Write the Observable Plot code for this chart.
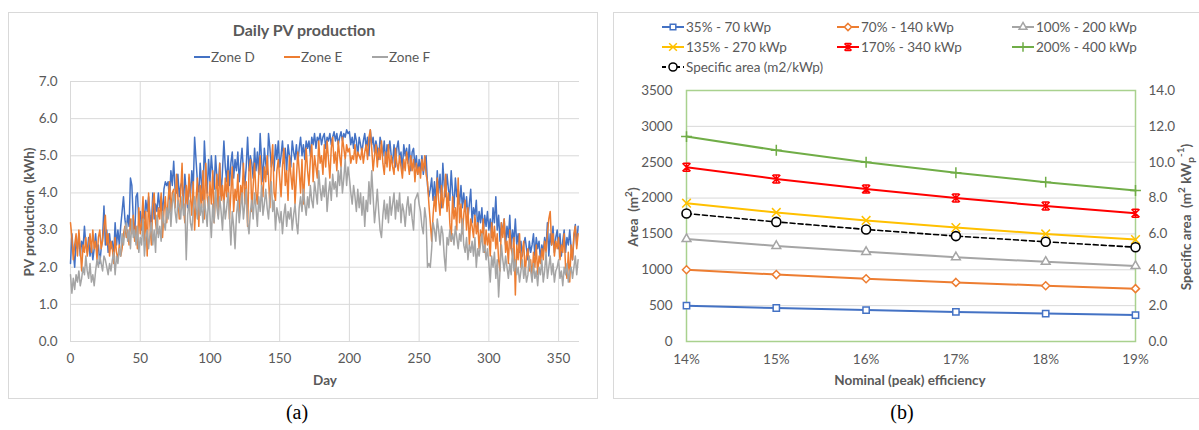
<!DOCTYPE html>
<html><head><meta charset="utf-8">
<script src="https://cdn.jsdelivr.net/npm/d3@7"></script>
<script src="https://cdn.jsdelivr.net/npm/@observablehq/plot@0.6"></script>
<style>
body{margin:0;background:#fff;font-family:Lato,"Open Sans",sans-serif;}
#wrap{position:relative;width:1199px;height:430px;overflow:hidden;background:#fff;}
.panel{position:absolute;border:1px solid #d9d9d9;box-sizing:border-box;pointer-events:none;}
.leg{position:absolute;white-space:nowrap;font-size:13.5px;color:#595959;display:flex;align-items:center;line-height:14px;}
.leg svg{display:block;overflow:visible;}
.cap{position:absolute;font-family:"Liberation Serif","Times New Roman",serif;font-size:20px;color:#000;transform:translate(-50%,-50%);}
</style></head><body><div id="wrap"></div>
<script>
// ---------- Panel (a): daily PV production (kWh), day 0..364 ----------
const zoneD = [
2.1,2.9,2.4,2.0,2.7,2.5,2.9,2.3,2.7,2.5,
3.1,2.6,2.4,2.8,2.3,2.6,2.2,2.5,2.9,2.4,
2.6,2.1,2.5,2.8,3.65,2.6,3.0,2.4,2.9,2.5,
2.7,2.3,3.2,2.6,3.0,2.6,3.1,3.5,3.9,3.3,
3.0,3.4,3.1,4.4,4.2,3.3,2.8,3.9,4.0,3.2,
3.5,3.0,3.6,3.3,3.8,3.5,3.9,3.4,3.1,4.0,
3.3,3.7,3.5,4.0,3.6,3.9,3.4,4.1,4.3,4.2,
4.3,3.8,4.6,4.2,4.85,4.1,4.0,4.5,3.9,4.2,
4.3,3.7,4.5,4.0,3.6,4.4,3.9,4.6,4.1,5.5,
4.9,4.3,3.9,4.8,4.2,3.8,5.4,4.6,4.0,4.9,
4.3,5.0,4.5,4.1,5.0,4.4,4.2,4.8,3.9,4.6,
5.4,4.7,4.3,5.0,4.2,4.8,5.1,4.4,4.9,4.6,
5.1,4.3,4.8,5.2,4.6,4.2,4.7,5.5,4.6,5.0,
4.8,4.4,5.2,4.6,5.1,4.5,5.6,4.9,4.3,5.2,
4.8,4.5,5.6,5.2,4.7,5.0,4.6,5.3,4.9,5.4,
4.7,5.0,5.4,4.8,5.2,4.6,5.3,5.0,4.7,5.4,
5.1,4.9,5.3,4.8,5.2,5.5,5.0,5.3,4.9,5.4,
5.2,5.4,5.0,5.5,5.3,5.6,5.2,5.5,5.4,5.6,
5.3,5.5,5.6,5.2,5.5,5.4,5.6,5.3,5.5,5.65,
5.4,5.6,5.3,5.5,5.65,5.4,5.6,5.5,5.7,5.6,
5.65,5.3,5.5,5.2,5.6,5.4,5.0,5.5,5.3,5.1,
5.4,5.6,5.2,5.5,5.0,5.7,5.3,5.5,5.1,5.4,
5.2,4.9,5.5,5.3,5.0,5.4,4.8,5.3,5.1,5.4,
5.0,4.8,5.3,4.7,5.2,5.4,4.9,5.1,4.6,5.3,
5.0,5.2,4.8,5.3,4.6,5.1,5.2,4.7,5.0,4.5,
4.9,4.6,5.0,4.5,4.8,5.0,4.2,3.9,4.1,4.4,
3.8,4.3,3.7,4.6,4.0,4.5,3.6,4.8,4.2,3.9,
4.5,4.1,3.8,4.6,4.0,3.6,4.4,3.9,4.1,3.7,
4.2,3.6,4.0,3.5,3.9,3.3,3.7,4.1,3.2,3.6,
3.4,3.8,3.0,3.5,3.2,3.6,2.9,3.4,3.1,3.5,
3.0,3.3,2.8,3.6,3.2,3.9,3.0,3.4,2.7,3.2,
2.9,3.3,2.6,3.1,2.8,3.4,2.5,3.0,2.7,3.3,
2.6,2.9,2.4,2.7,2.3,2.6,2.8,2.5,2.2,2.7,
2.4,2.6,2.9,2.3,2.8,2.5,2.7,2.2,2.6,2.4,
2.8,2.5,3.2,2.3,2.9,2.6,3.1,2.4,2.8,3.0,
2.5,2.9,2.3,2.7,3.0,2.4,2.8,2.6,3.0,2.5,
2.2,2.8,3.15,2.6,3.1];
const zoneE = [
3.2,2.8,2.2,2.6,2.9,2.3,3.0,2.5,1.9,2.6,
2.4,2.8,2.3,2.6,2.9,2.4,3.0,2.5,2.7,2.2,
2.8,3.0,2.5,2.7,3.1,3.4,2.6,2.9,2.3,2.7,
2.5,2.1,2.8,2.4,2.2,2.6,2.3,2.5,2.9,3.1,
2.8,3.0,2.6,3.3,2.9,3.4,2.7,3.1,2.5,3.6,
2.9,3.2,3.9,2.7,3.5,2.3,4.0,3.1,2.6,3.7,
4.0,3.2,2.9,3.6,3.3,4.0,2.8,3.5,3.9,3.2,
3.8,4.3,3.5,4.0,4.1,3.6,4.5,3.9,3.3,4.0,
4.8,3.6,3.2,4.2,3.7,4.5,3.9,3.4,4.3,3.0,
3.8,4.4,3.1,4.2,3.6,4.6,3.3,4.8,3.9,3.6,
4.3,3.7,4.6,3.2,4.0,4.5,3.4,4.8,3.8,4.2,
3.6,4.4,3.9,4.6,3.3,4.0,4.7,3.5,4.1,3.8,
4.5,3.4,4.2,3.9,4.8,3.7,4.3,3.1,4.6,4.9,
3.5,4.2,4.8,4.0,3.7,4.5,5.0,4.2,3.9,4.7,
4.3,5.0,4.4,3.6,4.8,5.3,4.0,3.8,4.6,4.9,
4.4,3.9,4.7,5.2,4.2,4.6,3.8,5.0,4.5,4.1,
4.8,3.7,4.4,5.1,4.6,4.0,4.9,3.7,4.5,5.2,
4.6,4.2,4.9,5.3,4.3,5.0,4.7,4.4,5.4,4.8,
5.0,4.5,5.3,4.7,5.4,4.9,4.4,5.2,5.5,4.8,
5.1,4.6,5.4,5.0,4.7,5.5,5.2,4.9,5.3,5.1,
5.2,4.8,5.0,4.9,5.3,4.8,5.1,5.0,4.9,5.2,
4.8,5.1,5.3,4.9,5.5,5.7,5.2,4.6,5.0,5.3,
4.7,5.2,4.9,5.4,4.8,4.5,5.1,4.7,5.3,4.6,
5.0,4.7,4.5,5.2,4.8,4.6,5.0,4.7,4.4,4.9,
4.6,5.1,4.8,4.5,5.0,4.6,4.9,4.3,4.8,4.5,
4.7,4.4,4.9,4.6,5.0,4.5,4.3,3.7,3.2,2.7,
3.4,3.9,3.5,4.4,3.8,3.4,4.2,3.6,3.9,4.5,
3.5,4.0,3.2,2.7,3.9,3.3,3.6,3.0,4.4,3.2,
3.7,2.9,3.4,3.8,3.0,3.6,2.6,3.3,3.1,2.8,
3.4,2.9,3.2,2.5,3.0,2.8,3.3,2.4,3.0,2.6,
2.9,2.3,3.2,2.7,3.1,2.5,2.9,2.2,1.9,3.2,
2.8,3.3,2.4,2.7,2.1,3.0,2.5,2.3,2.8,1.25,
2.6,2.2,2.9,2.0,2.4,2.7,1.8,2.3,2.5,1.9,
2.2,1.7,2.4,2.0,2.6,1.8,2.3,2.1,2.5,2.2,
2.7,2.4,2.9,3.3,3.5,2.6,2.9,2.3,2.7,2.5,
2.8,2.2,2.6,2.4,2.9,2.0,1.7,2.4,1.6,2.6,
2.2,2.9,3.1,2.5,2.9];
const zoneF = [
1.8,1.3,1.7,1.4,1.8,1.6,1.9,1.5,1.7,2.0,
1.8,2.3,1.9,1.7,2.1,1.6,1.8,1.5,1.9,2.2,
2.0,2.3,2.1,1.9,2.3,2.2,2.0,1.8,2.1,1.9,
2.2,2.4,1.8,2.3,2.1,2.5,2.3,2.9,2.6,3.0,
3.2,2.7,3.0,2.5,3.3,2.8,3.0,2.6,3.1,2.4,
2.8,2.6,3.3,2.3,2.8,3.0,2.5,2.9,3.2,2.6,
3.0,2.4,3.4,2.8,3.1,2.7,3.5,3.2,3.0,3.6,
3.3,3.8,3.1,3.7,4.0,3.5,3.2,3.8,3.6,3.3,
3.9,3.4,3.7,2.2,3.4,3.8,3.2,3.0,3.5,3.9,
3.6,3.3,4.0,3.4,3.7,3.2,3.8,3.5,3.1,3.9,
3.4,2.8,3.7,3.2,4.1,3.6,3.3,3.9,3.5,3.0,
3.8,3.3,3.6,4.0,3.4,2.6,3.5,3.1,2.5,3.4,
3.8,3.2,3.6,4.0,3.3,3.7,4.1,3.2,2.9,3.5,
3.8,3.3,4.0,3.6,3.1,3.9,3.5,4.2,3.4,3.7,
4.1,3.6,3.3,3.9,4.3,3.5,3.8,3.0,3.6,3.4,
3.2,3.5,2.9,3.4,3.7,3.1,3.5,3.3,3.6,3.0,
3.4,3.7,3.2,2.9,3.6,3.9,3.5,4.1,3.7,3.4,
3.9,3.6,4.2,3.8,3.6,4.3,4.0,3.7,4.6,4.1,
3.8,4.2,3.9,4.4,3.5,4.0,4.3,3.8,4.5,4.1,
4.3,3.9,4.6,4.2,4.7,4.0,4.4,4.9,4.2,4.7,
4.4,4.0,3.7,4.2,3.9,3.5,4.1,3.6,4.0,3.4,
3.9,3.1,3.8,3.5,4.3,3.7,4.6,3.9,3.2,3.6,
4.1,3.5,3.0,2.8,3.4,3.8,3.3,3.7,3.2,3.9,
3.4,3.7,4.0,3.3,3.8,3.5,4.0,3.2,3.7,3.5,
3.1,3.6,3.9,3.4,3.7,3.3,3.0,3.8,3.9,4.0,
3.7,3.5,3.1,2.9,3.6,3.3,2.0,2.1,2.0,2.5,
3.2,3.0,2.7,3.3,3.0,2.6,3.1,2.9,2.3,1.9,
2.8,2.6,3.0,2.7,2.9,2.6,3.1,2.8,2.5,2.9,
2.7,3.3,2.6,2.4,2.8,2.2,2.6,2.4,2.7,2.3,
2.8,2.0,2.5,2.3,2.6,2.9,2.4,2.6,2.2,2.5,
2.1,1.6,2.3,2.0,2.4,1.7,2.2,1.2,1.9,2.6,
2.2,1.9,2.3,2.0,1.7,2.1,1.8,2.5,1.9,2.2,
1.8,2.0,1.6,1.9,2.2,1.7,2.0,1.6,1.8,2.3,
1.9,1.6,2.1,1.7,1.9,1.5,2.0,1.8,2.2,1.6,
1.9,2.4,1.7,2.0,2.3,1.8,2.1,1.6,1.9,2.0,
2.2,1.7,1.9,1.5,2.0,1.8,2.1,1.6,1.9,2.0,
1.7,2.0,2.3,1.8,2.2];
const zoneNames = ["Zone D","Zone E","Zone F"];
const zoneColors = ["#4472C4","#ED7D31","#A5A5A5"];
const dayTicks = [0,50,100,150,200,250,300,350];
const pvTicks = [0,1,2,3,4,5,6,7];

// ---------- Panel (b): area vs nominal efficiency ----------
const efficiency = [14,15,16,17,18,19];
const area70 = [500,467,438,412,389,368];
const area140 = [1000,933,875,824,778,737];
const area200 = [1429,1333,1250,1176,1111,1053];
const area270 = [1929,1800,1688,1588,1500,1421];
const area340 = [2429,2267,2125,2000,1889,1789];
const area400 = [2857,2667,2500,2353,2222,2105];
const specificArea = [7.14,6.67,6.25,5.88,5.56,5.26];
const seriesNames = ["35% - 70 kWp","70% - 140 kWp","100% - 200 kWp","135% - 270 kWp","170% - 340 kWp","200% - 400 kWp","Specific area (m2/kWp)"];
const seriesColors = ["#4472C4","#ED7D31","#A5A5A5","#FFC000","#FF0000","#70AD47","#000000"];
const areaTicks = [0,500,1000,1500,2000,2500,3000,3500];
const specificTicks = [0,2,4,6,8,10,12,14];
</script>
<script>
const wrap = document.getElementById("wrap");
const TXT = "#595959";
const FONT = "Lato, 'Open Sans', sans-serif";

// custom Excel-like star marker (X + vertical bar + caps)
const starSym = {draw(ctx, size){ const r = Math.sqrt(size/Math.PI);
  ctx.moveTo(-r,-r); ctx.lineTo(r,r); ctx.moveTo(r,-r); ctx.lineTo(-r,r);
  ctx.moveTo(-r*0.8,-r); ctx.lineTo(r*0.8,-r); ctx.moveTo(-r*0.8,r); ctx.lineTo(r*0.8,r);
  ctx.moveTo(0,-r); ctx.lineTo(0,r);} };

// ===== Panel (a) =====
const zones = [zoneD, zoneE, zoneF];
const plotA = Plot.plot({
  width: 600, height: 400,
  marginLeft: 70, marginRight: 21, marginTop: 81, marginBottom: 59,
  style: {background: "transparent", fontFamily: FONT, fontSize: "13px", color: TXT, overflow: "visible"},
  x: {domain: [0, 365]},
  y: {domain: [0, 7]},
  marks: [
    Plot.gridX(dayTicks, {stroke: "#d9d9d9", strokeOpacity: 1, strokeWidth: 1}),
    Plot.gridY(pvTicks, {stroke: "#d9d9d9", strokeOpacity: 1, strokeWidth: 1}),
    Plot.axisX(dayTicks, {tickSize: 0, tickPadding: 12, label: null, color: TXT, fontSize: 13.5, tickFormat: d => String(d)}),
    Plot.axisY(pvTicks, {tickSize: 0, tickPadding: 13, label: null, color: TXT, fontSize: 13.5, tickFormat: d => d.toFixed(1)}),
    ...zones.map((z, k) => Plot.lineY(z, {x: (d, i) => i, y: d => d, stroke: zoneColors[k], strokeWidth: 1.5}))
  ]
});
plotA.style.position = "absolute"; plotA.style.left = "0px"; plotA.style.top = "0px";
wrap.appendChild(plotA);
{
  const s = d3.select(plotA);
  s.append("text").attr("x", 304).attr("y", 29).attr("text-anchor", "middle").attr("dominant-baseline", "central")
    .attr("font-size", 16).attr("font-weight", "bold").attr("fill", TXT).text("Daily PV production");
  s.append("text").attr("x", 325).attr("y", 380).attr("text-anchor", "middle").attr("dominant-baseline", "central")
    .attr("font-size", 13.5).attr("font-weight", "bold").attr("fill", TXT).text("Day");
  s.append("text").attr("transform", "translate(29,212) rotate(-90)").attr("text-anchor", "middle").attr("dominant-baseline", "central")
    .attr("font-size", 13.5).attr("font-weight", "bold").attr("fill", TXT).text("PV production\u00a0\u00a0(kWh)");
}
// legend (a)
const legA = [194, 284, 372];
zoneNames.forEach((n, k) => {
  const d = document.createElement("div"); d.className = "leg";
  d.style.left = legA[k] + "px"; d.style.top = (57 - 7) + "px";
  d.innerHTML = `<svg width="16" height="14"><line x1="0" x2="16" y1="7" y2="7" stroke="${zoneColors[k]}" stroke-width="2"/></svg><span style="margin-left:1px">${n}</span>`;
  wrap.appendChild(d);
});

// ===== Panel (b) =====
const areas = [area70, area140, area200, area270, area340, area400, specificArea.map(v => v * 250)];
const syms = [d3.symbolSquare2, d3.symbolDiamond2, d3.symbolTriangle2, d3.symbolTimes, starSym, d3.symbolPlus, d3.symbolCircle];
const plotSyms = ["square2", "diamond2", "triangle2", "times", starSym, "plus", "circle"];
const symR = [4, 3.6, 4.2, 4.0, 4, 3.6, 4.5];
const plotB = Plot.plot({
  width: 599, height: 400,
  marginLeft: 86, marginRight: 64, marginTop: 90, marginBottom: 59,
  style: {background: "transparent", fontFamily: FONT, fontSize: "13px", color: TXT, overflow: "visible"},
  x: {domain: [14, 19]},
  y: {domain: [0, 3500]},
  marks: [
    Plot.gridY(areaTicks.slice(1, -1), {stroke: "#d9d9d9", strokeOpacity: 1, strokeWidth: 1}),
    Plot.frame({stroke: "#A9D18E", strokeWidth: 1.5}),
    Plot.axisX(efficiency, {tickSize: 0, tickPadding: 13, label: null, color: TXT, fontSize: 13.5, tickFormat: d => d + "%"}),
    Plot.axisY(areaTicks, {tickSize: 0, tickPadding: 14, label: null, color: TXT, fontSize: 13.5, tickFormat: d => String(d)}),
    Plot.axisY(specificTicks.map(v => v * 250), {anchor: "right", tickSize: 0, tickPadding: 13, label: null, color: TXT, fontSize: 13.5, tickFormat: v => (v / 250).toFixed(1)}),
    ...areas.map((a, k) => Plot.line(a, {x: (d, i) => efficiency[i], y: d => d, stroke: seriesColors[k], strokeWidth: k === 6 ? 1.6 : 2, strokeDasharray: k === 6 ? "5,3" : null})),
    ...areas.map((a, k) => Plot.dot(a, {x: (d, i) => efficiency[i], y: d => d, symbol: plotSyms[k], r: symR[k], stroke: seriesColors[k], strokeWidth: k === 6 ? 1.6 : 1.5, fill: (k === 3 || k === 4 || k === 5) ? "none" : "white"}))
  ]
});
plotB.style.position = "absolute"; plotB.style.left = "600px"; plotB.style.top = "0px";
wrap.appendChild(plotB);
{
  const s = d3.select(plotB);
  s.append("text").attr("x", 310).attr("y", 380).attr("text-anchor", "middle").attr("dominant-baseline", "central")
    .attr("font-size", 13.5).attr("font-weight", "bold").attr("fill", TXT).text("Nominal (peak) efficiency");
  const t1 = s.append("text").attr("transform", "translate(33,217) rotate(-90)").attr("text-anchor", "middle").attr("dominant-baseline", "central")
    .attr("font-size", 13.5).attr("font-weight", "bold").attr("fill", TXT);
  t1.append("tspan").text("Area\u00a0\u00a0(m");
  t1.append("tspan").attr("dy", -5).attr("font-size", 10).text("2");
  t1.append("tspan").attr("dy", 5).text(")");
  const t2 = s.append("text").attr("transform", "translate(586,217) rotate(-90)").attr("text-anchor", "middle").attr("dominant-baseline", "central")
    .attr("font-size", 13.5).attr("font-weight", "bold").attr("fill", TXT);
  t2.append("tspan").text("Specific area\u00a0\u00a0(m");
  t2.append("tspan").attr("dy", -5).attr("font-size", 10).text("2");
  t2.append("tspan").attr("dy", 5).text(" kW");
  t2.append("tspan").attr("dy", 4).attr("font-size", 10).text("p");
  t2.append("tspan").attr("dy", -10).attr("font-size", 10).text("-1");
  t2.append("tspan").attr("dy", 6).text(")");
}
// legend (b)
const legCols = [662, 837, 1012], legRows = [27, 47, 67];
seriesNames.forEach((n, k) => {
  const col = k === 6 ? 0 : k % 3, row = k === 6 ? 2 : Math.floor(k / 3);
  const d = document.createElement("div"); d.className = "leg";
  d.style.left = legCols[col] + "px"; d.style.top = (legRows[row] - 7) + "px";
  const path = d3.symbol().type(syms[k]).size(Math.PI * symR[k] * symR[k] * 0.8)();
  const fill = (k === 3 || k === 4 || k === 5) ? "none" : "white";
  d.innerHTML = `<svg width="22" height="14"><line x1="0" x2="22" y1="7" y2="7" stroke="${seriesColors[k]}" stroke-width="2" ${k === 6 ? 'stroke-dasharray="4,3"' : ''}/><path transform="translate(11,7)" d="${path}" stroke="${seriesColors[k]}" stroke-width="1.5" fill="${fill}"/></svg><span style="margin-left:2px">${n}</span>`;
  wrap.appendChild(d);
});

// panel borders and captions
[[8, 12, 590, 387], [613, 12, 600, 387]].forEach(([l, t, w, h]) => {
  const b = document.createElement("div"); b.className = "panel";
  b.style.left = l + "px"; b.style.top = t + "px"; b.style.width = w + "px"; b.style.height = h + "px";
  wrap.appendChild(b);
});
[["(a)", 297, 412], ["(b)", 902, 412]].forEach(([s, x, y]) => {
  const c = document.createElement("div"); c.className = "cap";
  c.style.left = x + "px"; c.style.top = y + "px"; c.textContent = s;
  wrap.appendChild(c);
});
</script></body></html>
